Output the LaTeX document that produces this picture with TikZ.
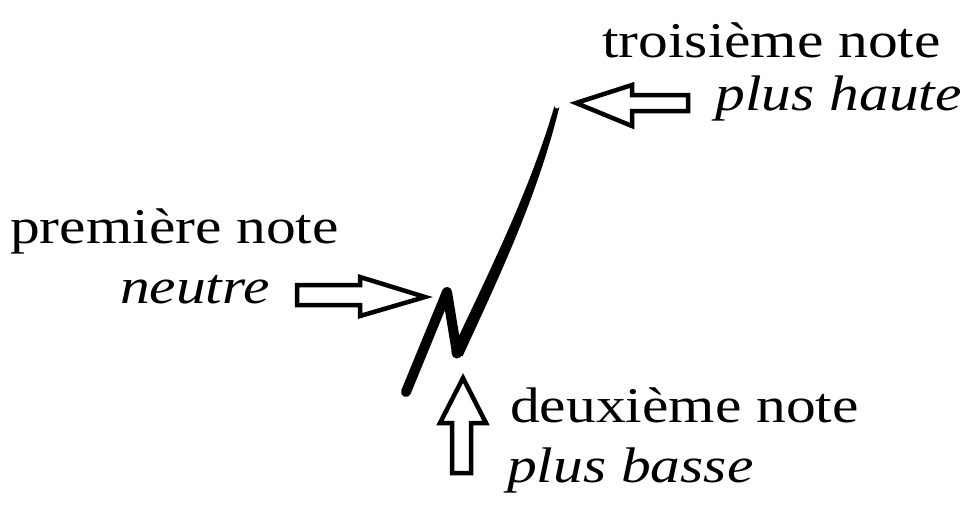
\documentclass[tikz,border=0pt]{standalone}
\usepackage{fontspec}
\setmainfont[FakeStretch=1.19]{Liberation Serif}
\begin{document}
\begin{tikzpicture}[x=1pt,y=-1pt,
  lbl/.style={inner sep=0pt,font=\fontsize{50}{60}\selectfont},
  blockarrow/.style={draw=black,fill=white,line width=4.5pt,line join=miter},
  pen/.style={line width=10pt,line cap=round,line join=round}]
\useasboundingbox (0,0) rectangle (968,506);
% labels
\node[lbl,anchor=base west] (t1) at (602,57) {troisième note};
\node[lbl,anchor=base east] (t2) at (962,110) {\itshape plus haute};
\node[lbl,anchor=base west] (p1) at (10,243) {première note};
\node[lbl,anchor=base east] (p2) at (270,303) {\itshape neutre};
\node[lbl,anchor=base west] (d1) at (510,422) {deuxième note};
\node[lbl,anchor=base west] (d2) at (507,482) {\itshape plus basse};
% pitch stroke
\coordinate (A) at (406,392);
\coordinate (B) at (447,292);
\coordinate (C) at (457,353);
\coordinate (D) at (557,106);
\draw[pen] (A) -- (B) -- (C);
\fill (451.4,351.8) .. controls (490,270) and (530,190) .. (554.7,105.1)
  arc[start angle=202,end angle=22,radius=2.5]
  .. controls (538,195) and (500,275) .. (462.6,356.2) -- cycle;
\fill (C) circle (5.5);
% block arrows
\draw[blockarrow] (297,285) -- (360,285) -- (360,277) -- (425,297) -- (360,316) -- (360,305) -- (297,305) -- cycle;
\draw[blockarrow] (463,378) -- (440,423) -- (452,423) -- (452,473) -- (471,473) -- (471,423) -- (486,423) -- cycle;
\draw[blockarrow] (576,103) -- (632,85) -- (632,95) -- (688,95) -- (688,111) -- (632,111) -- (632,126) -- cycle;
\end{tikzpicture}
\end{document}
